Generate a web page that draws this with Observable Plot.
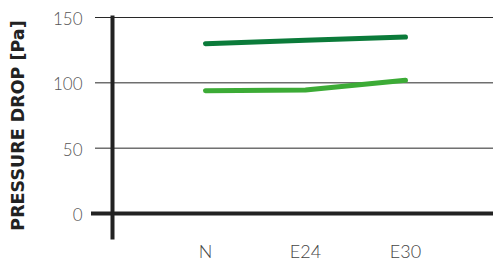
<!DOCTYPE html>
<html>
<head>
<meta charset="utf-8">
<script src="https://cdn.jsdelivr.net/npm/d3@7"></script>
<script src="https://cdn.jsdelivr.net/npm/@observablehq/plot@0.6"></script>
<style>
  html, body { margin: 0; padding: 0; background: #fff; }
  #chart svg { display: block; }
</style>
</head>
<body>
<div id="chart"></div>
<script>
const categories = ["N", "E24", "E30"];
const seriesNames = ["Dark", "Light"];
const darkValues = [130, 132.5, 135];
const lightValues = [94, 94.5, 102];
const yTicks = [0, 50, 100, 150];
const gridTicks = [50, 100, 150];
const yLabel = "PRESSURE DROP [Pa]";
const colors = ["#0b7b3a", "#3cab36"];

const rows = [];
categories.forEach((c, i) => {
  rows.push({cat: c, value: darkValues[i], series: seriesNames[0]});
  rows.push({cat: c, value: lightValues[i], series: seriesNames[1]});
});

const font = "Lato, 'Open Sans', sans-serif";

const chart = Plot.plot({
  width: 493,
  height: 262,
  marginLeft: 112,
  marginRight: 0,
  marginTop: 17,
  marginBottom: 49,
  style: {fontFamily: font, background: "#fff"},
  x: {type: "point", domain: categories, range: [204, 405], padding: 0},
  y: {domain: [0, 150], range: [213, 17]},
  color: {domain: seriesNames, range: colors},
  marks: [
    Plot.ruleY(gridTicks, {stroke: "#111", strokeWidth: 1, insetLeft: -17, strokeOpacity: 0.9}),
    Plot.ruleY([0], {stroke: "#222", strokeWidth: 4, insetLeft: -21}),
    Plot.frame({anchor: "left", stroke: "#222", strokeWidth: 4, insetBottom: -24}),
    Plot.axisY({ticks: yTicks, tickSize: 0, tickPadding: 30, fontSize: 17, fontWeight: 300, fill: "#555", dy: 2, label: null}),
    Plot.axisX({tickSize: 0, tickPadding: 32, fontSize: 18, fontWeight: 300, fill: "#444", label: null}),
    Plot.text([yLabel], {frameAnchor: "left", rotate: -90, dx: -94, dy: 10, fontSize: 17.5, fontWeight: "bold", fontFamily: "'DejaVu Sans', sans-serif", fill: "#222", textAnchor: "middle"}),
    Plot.line(rows, {x: "cat", y: "value", z: "series", stroke: "series", strokeWidth: 5, strokeLinecap: "round", strokeLinejoin: "round"})
  ]
});
document.getElementById("chart").appendChild(chart);
</script>
</body>
</html>
